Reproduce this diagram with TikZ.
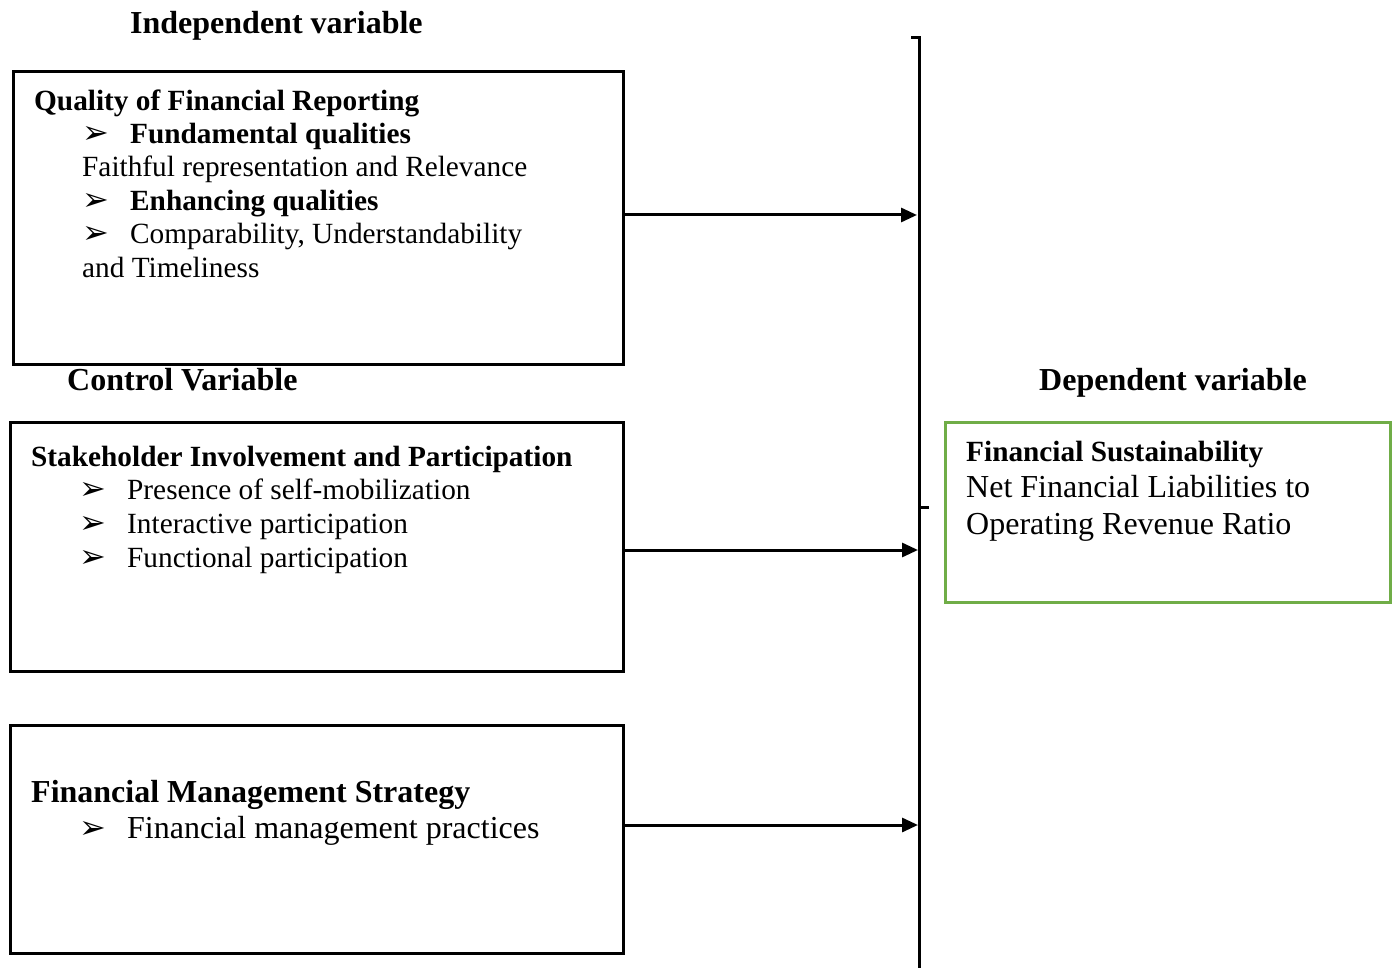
\documentclass[tikz,border=0pt]{standalone}
\usepackage{fontspec}
\setmainfont{Liberation Serif}
\newfontfamily\dv{DejaVu Sans}
\usetikzlibrary{arrows.meta}
\newcommand{\bul}{{\dv\fontsize{32}{34}\selectfont ➢}}
\begin{document}
\begin{tikzpicture}[x=1pt,y=-1pt,
  box/.style={draw,line width=3pt,anchor=north west,inner sep=0pt},
  gbox/.style={box,draw=grn},
  txt/.style={anchor=base west,inner sep=0pt,font=\fontsize{29.3}{32}\selectfont},
  btxt/.style={txt,font=\fontsize{29.3}{32}\selectfont\bfseries},
  ltxt/.style={txt,font=\fontsize{32}{34}\selectfont},
  lbtxt/.style={txt,font=\fontsize{32}{34}\selectfont\bfseries},
  conn/.style={line width=3pt,-{Triangle[length=16pt,width=14pt]}},
  brk/.style={line width=3pt}
]
\definecolor{grn}{RGB}{112,173,71}
\useasboundingbox (0,0) rectangle (1395,968);
% boxes
\node[box,minimum width=610pt,minimum height=293pt] (q) at (12,70) {};
\node[box,minimum width=613pt,minimum height=249pt] (s) at (9,421) {};
\node[box,minimum width=613pt,minimum height=228pt] (f) at (9,724) {};
\node[gbox,minimum width=445pt,minimum height=180pt] (d) at (944,421) {};
% headings
\node[lbtxt] (h1) at (130,34) {Independent variable};
\node[lbtxt] (h2) at (67,390) {Control Variable};
\node[lbtxt] (h3) at (1039,390) {Dependent variable};
% box 1 text
\node[btxt] (q1) at (34,111) {Quality of Financial Reporting};
\node[txt] (qb1) at (82,144) {\bul};
\node[btxt] (q2) at (130,144) {Fundamental qualities};
\node[txt] (q3) at (82,177) {Faithful representation and Relevance};
\node[txt] (qb2) at (82,211) {\bul};
\node[btxt] (q4) at (130,211) {Enhancing qualities};
\node[txt] (qb3) at (82,244) {\bul};
\node[txt] (q5) at (130,244) {Comparability, Understandability};
\node[txt] (q6) at (82,278) {and Timeliness};
% box 2 text
\node[btxt] (s1) at (31,466) {Stakeholder Involvement and Participation};
\node[txt] (sb1) at (79,499) {\bul};
\node[txt] (s2) at (127,499) {Presence of self-mobilization};
\node[txt] (sb2) at (79,533) {\bul};
\node[txt] (s3) at (127,533) {Interactive participation};
\node[txt] (sb3) at (79,567) {\bul};
\node[txt] (s4) at (127,567) {Functional participation};
% box 3 text
\node[lbtxt] (f1) at (31,802) {Financial Management Strategy};
\node[txt] (fb1) at (79,838) {\bul};
\node[ltxt] (f2) at (127,838) {Financial management practices};
% green box text
\node[btxt] (d1) at (966,461) {Financial Sustainability};
\node[ltxt] (d2) at (966,497) {Net Financial Liabilities to};
\node[ltxt] (d3) at (966,534) {Operating Revenue Ratio};
% bracket
\coordinate (bt) at (911,38);
\coordinate (bc) at (919,38);
\coordinate (bb) at (919,968);
\coordinate (tm) at (919,507);
\coordinate (te) at (929,507);
\draw[brk] (bt) -- (bc) -- (bb);
\draw[brk] (tm) -- (te);
% arrows
\coordinate (a1) at (917,215);
\coordinate (a2) at (918,550);
\coordinate (a3) at (918,825);
\draw[conn] (q.east |- a1) -- (a1);
\draw[conn] (s.east |- a2) -- (a2);
\draw[conn] (f.east |- a3) -- (a3);
\end{tikzpicture}
\end{document}
